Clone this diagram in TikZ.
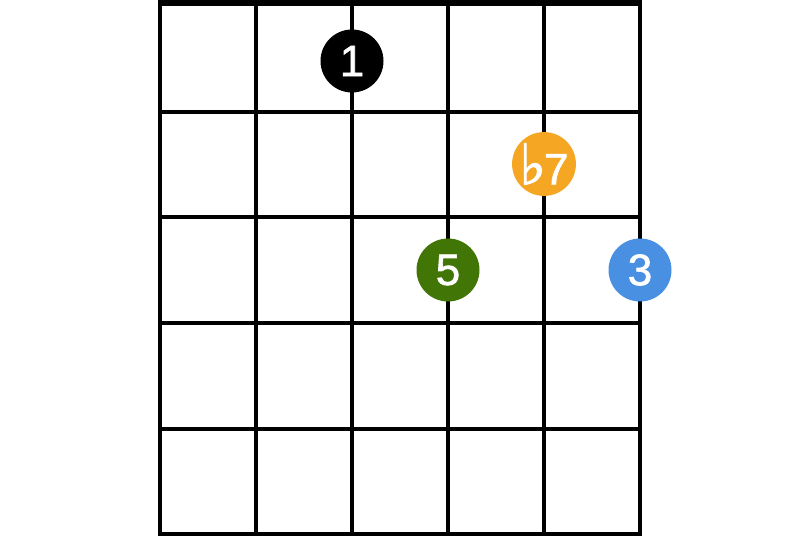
\documentclass[tikz,border=0pt]{standalone}
\usepackage{fontspec}
\setmainfont{Liberation Sans}
\newfontfamily\tonefont[FakeBold=1.5]{Liberation Sans}
\newfontfamily\flatfont[FakeBold=2]{DejaVu Sans}

\definecolor{rootcolor}{HTML}{000000}
\definecolor{seventhcolor}{HTML}{F5A623}
\definecolor{fifthcolor}{HTML}{417505}
\definecolor{thirdcolor}{HTML}{4A90E2}

\begin{document}
\begin{tikzpicture}[
    x=1pt,
    y=-1pt,
    fretline/.style={black, line width=4pt},
    stringline/.style={black, line width=4pt},
    nut/.style={fill=black},
    tone/.style={circle, minimum size=63pt, inner sep=0pt, text=white,
        font=\tonefont\fontsize{44}{44}\selectfont}
]

% -------------------------------------------------------------------------
% Canvas
% -------------------------------------------------------------------------
\useasboundingbox (0,0) rectangle (800,545);

\def\xmin{158}
\def\xmax{642}
\def\ybottom{536}

% -------------------------------------------------------------------------
% Nut
% -------------------------------------------------------------------------
\fill[ nut ]
    (\xmin,0) rectangle (\xmax,6);

% -------------------------------------------------------------------------
% Frets
% -------------------------------------------------------------------------
\foreach \y in {112,217.5,323,428.5,534}{
    \draw[ fretline ]
        (\xmin,\y) -- (\xmax,\y);
}

% -------------------------------------------------------------------------
% Strings
% -------------------------------------------------------------------------
\foreach \x in {160,256,352,448,544,640}{
    \draw[ stringline ]
        (\x,0) -- (\x,\ybottom);
}

% -------------------------------------------------------------------------
% Chord tones
% -------------------------------------------------------------------------
\node[ tone, fill=rootcolor ] (tone-root) at (352,61) {1};
\node[ tone, fill=seventhcolor ] (tone-seventh) at (544,164)
    {{\flatfont\fontsize{56}{56}\selectfont ♭}\kern-2pt 7};
\node[ tone, fill=fifthcolor ] (tone-fifth) at (448,270) {5};
\node[ tone, fill=thirdcolor ] (tone-third) at (640,270) {3};

\end{tikzpicture}
\end{document}
